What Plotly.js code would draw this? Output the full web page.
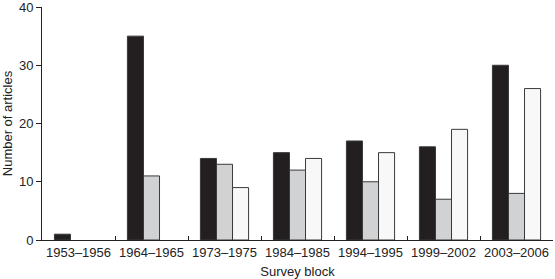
<!DOCTYPE html>
<html><head><meta charset="utf-8">
<script src="https://cdn.plot.ly/plotly-3.0.1.min.js"></script>
<style>html,body{margin:0;padding:0;background:#fff}#chart{width:555px;height:279px}</style>
</head><body><div id="chart"></div>
<script>
const categories = ["1953–1956","1964–1965","1973–1975","1984–1985","1994–1995","1999–2002","2003–2006"];
const seriesBlack = [1, 35, 14, 15, 17, 16, 30];
const seriesGray = [0, 11, 13, 12, 10, 7, 8];
const seriesWhite = [0, 0, 9, 14, 15, 19, 26];
const yTicks = [0, 10, 20, 30, 40];

const mk = (y, color) => ({
  type: 'bar', x: categories, y: y,
  marker: {color: color, line: {color: '#3a3a3a', width: y.map(v => v === 0 ? 0 : 1)}},
  hoverinfo: 'none'
});
const data = [mk(seriesBlack, '#231f20'), mk(seriesGray, '#d1d2d4'), mk(seriesWhite, '#f8f8f8')];
const font = {family: 'Liberation Sans, Arial, sans-serif', size: 13, color: '#222'};
const layout = {
  width: 555, height: 279,
  margin: {l: 42, r: 2, t: 7, b: 39},
  paper_bgcolor: '#fff', plot_bgcolor: '#fff',
  showlegend: false,
  barmode: 'group', bargap: 0.34, bargroupgap: 0,
  font: font,
  xaxis: {
    type: 'category', showline: true, linecolor: '#222', linewidth: 1,
    ticks: 'inside', tickson: 'boundaries', ticklen: 4, tickcolor: '#222',
    tickangle: 0, automargin: false,
    showgrid: false, zeroline: false, tickfont: font,
    title: {text: 'Survey block', font: font, standoff: 8}
  },
  yaxis: {
    range: [0, 40], tickvals: yTicks, showline: true, linecolor: '#222', linewidth: 1,
    ticks: 'outside', ticklen: 5, tickcolor: '#222', showgrid: false, zeroline: false,
    tickfont: font, automargin: false, ticklabeloverflow: 'allow',
    title: {text: 'Number of articles', font: font, standoff: 6}
  }
};
Plotly.newPlot('chart', data, layout, {displayModeBar: false, staticPlot: true});
</script></body></html>
